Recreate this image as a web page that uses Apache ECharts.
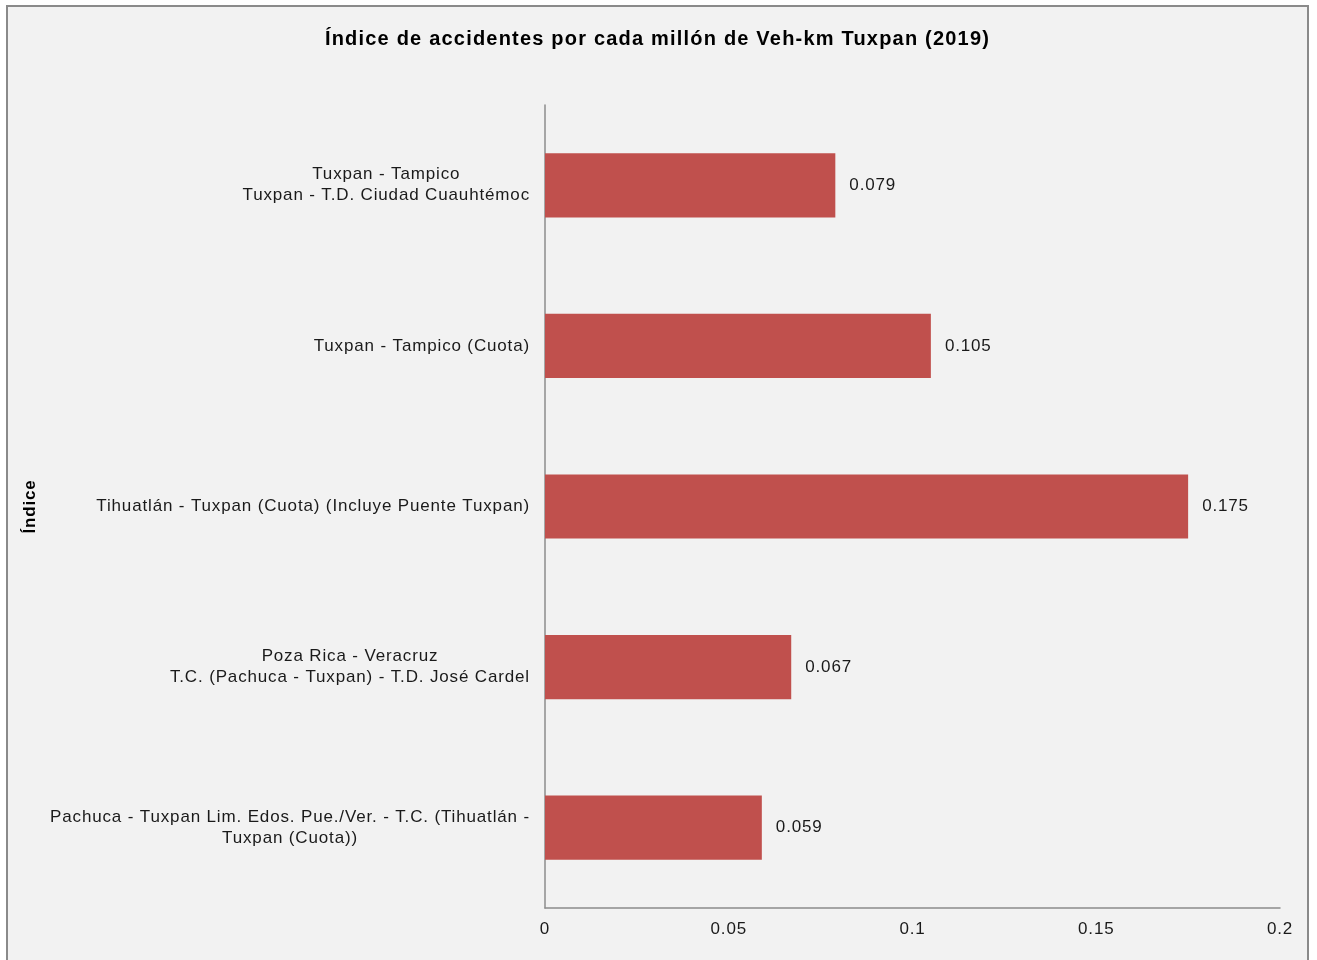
<!DOCTYPE html>
<html>
<head>
<meta charset="utf-8">
<script src="https://cdn.jsdelivr.net/npm/echarts@6/dist/echarts.min.js"></script>
<style>
  html, body { margin: 0; padding: 0; background: #ffffff; }
  #main {
    position: absolute; left: 6px; top: 5px; width: 1303px; height: 960px;
    box-sizing: border-box; border: 2px solid #8a8a8a; border-bottom: none;
    background: #f2f2f2;
  }
</style>
</head>
<body>
<div id="main"></div>
<script>
// tramos (de arriba hacia abajo)
var categorias = [
  'Tuxpan - Tampico\nTuxpan - T.D. Ciudad Cuauhtémoc',
  'Tuxpan - Tampico (Cuota)',
  'Tihuatlán - Tuxpan (Cuota) (Incluye Puente Tuxpan)',
  'Poza Rica - Veracruz\nT.C. (Pachuca - Tuxpan) - T.D. José Cardel',
  'Pachuca - Tuxpan Lim. Edos. Pue./Ver. - T.C. (Tihuatlán -\nTuxpan (Cuota))'
];
var indices = [0.079, 0.105, 0.175, 0.067, 0.059];
var ticksX = [0, 0.05, 0.1, 0.15, 0.2];

// el texto del original viene con un espaciado más abierto:
// cada vez que se fija la fuente se fija también el letterSpacing (mide y dibuja igual)
var fontDesc = Object.getOwnPropertyDescriptor(CanvasRenderingContext2D.prototype, 'font');
if (fontDesc && 'letterSpacing' in CanvasRenderingContext2D.prototype) {
  Object.defineProperty(CanvasRenderingContext2D.prototype, 'font', {
    configurable: true,
    get: fontDesc.get,
    set: function (v) {
      fontDesc.set.call(this, v);
      this.letterSpacing = /bold 20px/.test(v) ? '1.2px' : '0.85px';
    }
  });
}

var chart = echarts.init(document.getElementById('main'));
var option = {
  animation: false,
  textStyle: { fontFamily: 'Liberation Sans, Arial, sans-serif' },
  title: {
    text: 'Índice de accidentes por cada millón de Veh-km Tuxpan (2019)',
    left: 'center',
    top: 17,
    textStyle: { fontSize: 20, fontWeight: 'bold', color: '#000000', fontFamily: 'Liberation Sans, Arial, sans-serif' }
  },
  grid: { left: 537, right: 27, top: 98, bottom: 57, containLabel: false },
  xAxis: {
    type: 'value',
    min: ticksX[0],
    max: ticksX[ticksX.length - 1],
    interval: 0.05,
    axisLine: { show: true, lineStyle: { color: '#8c8c8c', width: 1.5 } },
    axisTick: { show: false },
    splitLine: { show: false },
    axisLabel: {
      margin: 12, fontSize: 17, color: '#1a1a1a',
      formatter: function (v) { return String(+v.toFixed(2)); }
    }
  },
  yAxis: {
    type: 'category',
    inverse: true,
    data: categorias,
    name: 'Índice',
    nameLocation: 'middle',
    nameRotate: 90,
    nameGap: 506,
    nameTextStyle: { fontSize: 17, fontWeight: 'bold', color: '#000000' },
    axisLine: { show: true, lineStyle: { color: '#8c8c8c', width: 1.5 } },
    axisTick: { show: false },
    axisLabel: {
      margin: 15,
      fontSize: 17,
      color: '#1a1a1a',
      lineHeight: 21,
      formatter: function (v) { return '{c|' + v.split('\n').join('}\n{c|') + '}'; },
      rich: { c: { align: 'center', fontSize: 17, lineHeight: 21, color: '#1a1a1a' } }
    }
  },
  series: [{
    type: 'bar',
    data: indices,
    barWidth: '40%',
    itemStyle: { color: '#c0504d' },
    label: {
      show: true, position: 'right', distance: 14,
      fontSize: 17, color: '#1a1a1a',
      formatter: function (p) { return p.value.toFixed(3); }
    }
  }]
};
chart.setOption(option);
</script>
</body>
</html>
